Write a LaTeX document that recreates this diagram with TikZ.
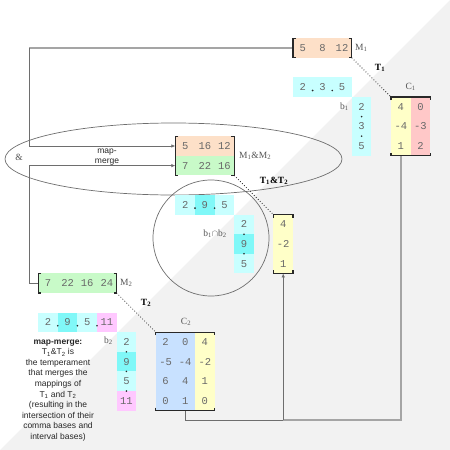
\documentclass[tikz,border=0pt]{standalone}
\usepackage{fontspec}
\setmainfont{Liberation Serif}
\setsansfont{Liberation Sans}
\setmonofont{Liberation Mono}
\usetikzlibrary{arrows.meta}
\definecolor{bggray}{RGB}{242,242,242}
\definecolor{corange}{RGB}{253,224,200}
\definecolor{cgreen}{RGB}{200,250,200}
\definecolor{ccyan}{RGB}{200,255,255}
\definecolor{cdcyan}{RGB}{128,248,248}
\definecolor{cyellow}{RGB}{255,255,200}
\definecolor{cpink}{RGB}{255,200,200}
\definecolor{cblue}{RGB}{200,225,255}
\definecolor{cmag}{RGB}{255,200,255}
\definecolor{numgray}{RGB}{105,105,105}
\definecolor{labgray}{RGB}{85,85,85}
\definecolor{linedark}{RGB}{110,110,110}
\definecolor{linelight}{RGB}{165,165,165}
\definecolor{brkcol}{RGB}{40,40,40}
\newcommand\rowbrackets[1]{%
  \draw[brk] ([xshift=3pt]#1.north west) -- (#1.north west) -- (#1.south west) -- ([xshift=3pt]#1.south west);
  \draw[brk] ([xshift=-3pt]#1.north east) -- (#1.north east) -- (#1.south east) -- ([xshift=-3pt]#1.south east);}
\newcommand\colbrackets[1]{%
  \draw[brk] ([yshift=-3pt]#1.north west) -- (#1.north west) -- (#1.north east) -- ([yshift=-3pt]#1.north east);
  \draw[brk] ([yshift=3pt]#1.south west) -- (#1.south west) -- (#1.south east) -- ([yshift=3pt]#1.south east);}
\begin{document}
\begin{tikzpicture}[x=1pt,y=-1pt,
  cell/.style={rectangle, minimum width=19.7pt, minimum height=19.7pt, inner sep=0pt, outer sep=0pt,
    font=\ttfamily\fontsize{10.5}{10.5}\selectfont, text=numgray},
  frame/.style={rectangle, inner sep=0pt, outer sep=0pt},
  brk/.style={draw=brkcol, line width=1.1pt},
  lab/.style={font=\fontsize{9.5}{9.5}\selectfont, text=labgray, inner sep=0pt},
  tlab/.style={font=\bfseries\fontsize{9.5}{9.5}\selectfont, text=black, inner sep=0pt},
  sep/.style={circle, fill=brkcol, inner sep=0pt, minimum size=1.8pt},
  darkline/.style={draw=linedark, line width=0.7pt},
  lightline/.style={draw=linelight, line width=1.6pt},
  dotline/.style={draw=brkcol, line width=0.8pt, dotted},
  arr/.style={-{Latex[length=4pt,width=3.5pt]}}
]
\useasboundingbox (0,0) rectangle (450,450);
\fill[bggray] (450,0) -- (450,450) -- (0,450) -- cycle;

% ellipse and circle
\draw[linedark, line width=0.7pt] (173.5,159) ellipse [x radius=168.5, y radius=36];
\draw[linedark, line width=0.7pt] (211,238) circle [radius=58];

% containers
\node[frame, minimum width=58.8pt, minimum height=19.6pt] (M1) at (322.4,48) {};
\node[frame, minimum width=39.2pt, minimum height=58.8pt] (C1) at (410.6,126.4) {};
\node[frame, minimum width=58.8pt, minimum height=39.2pt] (M12) at (204.8,155.8) {};
\node[frame, minimum width=19.6pt, minimum height=58.8pt] (V) at (283.2,244) {};
\node[frame, minimum width=78.4pt, minimum height=19.6pt] (M2) at (77.4,283.2) {};
\node[frame, minimum width=58.8pt, minimum height=78.4pt] (C2) at (185.2,371.4) {};

% connectors
\coordinate (k1) at (29,48);
\coordinate (k2) at (29,283.2);
\coordinate (j) at (283.2,420);
\node[cell, fill=corange] (m12a) at (185.2,146) {5};
\node[cell, fill=cgreen] (m12b) at (185.2,165.6) {7};
\node[cell, fill=cyellow] (c1x) at (400.8,146) {1};
\node[cell, fill=cblue] (c2x) at (185.2,400.8) {1};
\draw[lightline] (M1.west) -- (k1);
\draw[darkline, arr] (k1) |- (m12a.west);
\draw[darkline] (M2.west) -- (k2);
\draw[darkline, arr] (k2) |- (m12b.west);
\draw[lightline] (c1x.south) |- (j);
\draw[darkline] (c2x.south) |- (j);
\draw[darkline, arr] (j) -- (V.south);
\draw[dotline] (M1.south east) -- (C1.north west);
\draw[dotline] (M12.south east) -- (V.north west);
\draw[dotline] (M2.south east) -- (C2.north west);

% M1
\node[cell, fill=corange] (m1a) at (302.8,48) {5};
\node[cell, fill=corange] (m1b) at (322.4,48) {8};
\node[cell, fill=corange] (m1c) at (342,48) {12};
% b1 horizontal
\node[cell, fill=ccyan] (b1ha) at (302.8,87.2) {2};
\node[cell, fill=ccyan] (b1hb) at (322.4,87.2) {3};
\node[cell, fill=ccyan] (b1hc) at (342,87.2) {5};
\node[sep] (b1hs1) at (312.6,90.5) {};
\node[sep] (b1hs2) at (332.2,90.5) {};
% b1 vertical
\node[cell, fill=ccyan] (b1va) at (361.6,106.8) {2};
\node[cell, fill=ccyan] (b1vb) at (361.6,126.4) {3};
\node[cell, fill=ccyan] (b1vc) at (361.6,146) {5};
\node[sep] (b1vs1) at (361.6,116.6) {};
\node[sep] (b1vs2) at (361.6,136.2) {};
% C1
\node[cell, fill=cyellow] (c1a) at (400.8,106.8) {4};
\node[cell, fill=cyellow] (c1b) at (400.8,126.4) {-4};
\node[cell, fill=cyellow] at (c1x) {1};
\node[cell, fill=cpink] (c1d) at (420.4,106.8) {0};
\node[cell, fill=cpink] (c1e) at (420.4,126.4) {-3};
\node[cell, fill=cpink] (c1f) at (420.4,146) {2};
% M1&M2
\node[cell, fill=corange] (m12c) at (204.8,146) {16};
\node[cell, fill=corange] (m12d) at (224.4,146) {12};
\node[cell, fill=cgreen] (m12e) at (204.8,165.6) {22};
\node[cell, fill=cgreen] (m12f) at (224.4,165.6) {16};
% b1 cap b2 horizontal
\node[cell, fill=ccyan] (biha) at (185.2,204.8) {2};
\node[cell, fill=cdcyan] (bihb) at (204.8,204.8) {9};
\node[cell, fill=ccyan] (bihc) at (224.4,204.8) {5};
\node[sep] (bihs1) at (195,208.1) {};
\node[sep] (bihs2) at (214.6,208.1) {};
% b1 cap b2 vertical
\node[cell, fill=ccyan] (biva) at (244,224.4) {2};
\node[cell, fill=cdcyan] (bivb) at (244,244) {9};
\node[cell, fill=ccyan] (bivc) at (244,263.6) {5};
\node[sep] (bivs1) at (244,234.2) {};
\node[sep] (bivs2) at (244,253.8) {};
% V
\node[cell, fill=cyellow] (va) at (283.2,224.4) {4};
\node[cell, fill=cyellow] (vb) at (283.2,244) {-2};
\node[cell, fill=cyellow] (vc) at (283.2,263.6) {1};
% M2
\node[cell, fill=cgreen] (m2a) at (48,283.2) {7};
\node[cell, fill=cgreen] (m2b) at (67.6,283.2) {22};
\node[cell, fill=cgreen] (m2c) at (87.2,283.2) {16};
\node[cell, fill=cgreen] (m2d) at (106.8,283.2) {24};
% b2 horizontal
\node[cell, fill=ccyan] (b2ha) at (48,322.4) {2};
\node[cell, fill=cdcyan] (b2hb) at (67.6,322.4) {9};
\node[cell, fill=ccyan] (b2hc) at (87.2,322.4) {5};
\node[cell, fill=cmag] (b2hd) at (106.8,322.4) {11};
\node[sep] (b2hs1) at (57.8,325.7) {};
\node[sep] (b2hs2) at (77.4,325.7) {};
\node[sep] (b2hs3) at (97,325.7) {};
% b2 vertical
\node[cell, fill=ccyan] (b2va) at (126.4,342) {2};
\node[cell, fill=cdcyan] (b2vb) at (126.4,361.6) {9};
\node[cell, fill=ccyan] (b2vc) at (126.4,381.2) {5};
\node[cell, fill=cmag] (b2vd) at (126.4,400.8) {11};
\node[sep] (b2vs1) at (126.4,351.8) {};
\node[sep] (b2vs2) at (126.4,371.4) {};
\node[sep] (b2vs3) at (126.4,391) {};
% C2
\node[cell, fill=cblue] (c2a) at (165.6,342) {2};
\node[cell, fill=cblue] (c2b) at (165.6,361.6) {-5};
\node[cell, fill=cblue] (c2c) at (165.6,381.2) {6};
\node[cell, fill=cblue] (c2d) at (165.6,400.8) {0};
\node[cell, fill=cblue] (c2e) at (185.2,342) {0};
\node[cell, fill=cblue] (c2f) at (185.2,361.6) {-4};
\node[cell, fill=cblue] (c2g) at (185.2,381.2) {4};
\node[cell, fill=cblue] at (c2x) {1};
\node[cell, fill=cyellow] (c2i) at (204.8,342) {4};
\node[cell, fill=cyellow] (c2j) at (204.8,361.6) {-2};
\node[cell, fill=cyellow] (c2k) at (204.8,381.2) {1};
\node[cell, fill=cyellow] (c2l) at (204.8,400.8) {0};

% brackets
\rowbrackets{M1}
\rowbrackets{M12}
\rowbrackets{M2}
\colbrackets{C1}
\colbrackets{V}
\colbrackets{C2}

% labels
\node[lab, anchor=west] (lM1) at (355,48) {M\textsubscript{1}};
\node[lab] (lC1) at (410.6,87) {C\textsubscript{1}};
\node[tlab] (lT1) at (380,68) {T\textsubscript{1}};
\node[lab, anchor=east] (lb1) at (349,107) {b\textsubscript{1}};
\node[lab, anchor=west] (lM12) at (239,155.8) {M\textsubscript{1}\&M\textsubscript{2}};
\node[tlab] (lT12) at (274,181) {T\textsubscript{1}\&T\textsubscript{2}};
\node[lab] (lbi) at (215,234) {b\textsubscript{1}\(\cap\)b\textsubscript{2}};
\node[lab, anchor=west] (lM2) at (120,283.2) {M\textsubscript{2}};
\node[tlab] (lT2) at (146,303) {T\textsubscript{2}};
\node[lab] (lC2) at (186,322) {C\textsubscript{2}};
\node[lab, anchor=east] (lb2) at (113,341) {b\textsubscript{2}};
\node[lab] (amp) at (19,157) {\&};
\node[font=\sffamily\fontsize{8.5}{10}\selectfont, text=black!85, align=center, inner sep=0pt] (mm) at (107,157) {map-\\merge};
\node[font=\sffamily\fontsize{8.5}{10.55}\selectfont, text=black!85, align=center, inner sep=0pt, anchor=north] (desc) at (58,339.5)
  {\textbf{map-merge:}\\T\textsubscript{1}\&T\textsubscript{2} is\\the temperament\\that merges the\\mappings of\\T\textsubscript{1} and T\textsubscript{2}\\(resulting in the\\intersection of their\\comma bases and\\interval bases)};
\end{tikzpicture}
\end{document}
